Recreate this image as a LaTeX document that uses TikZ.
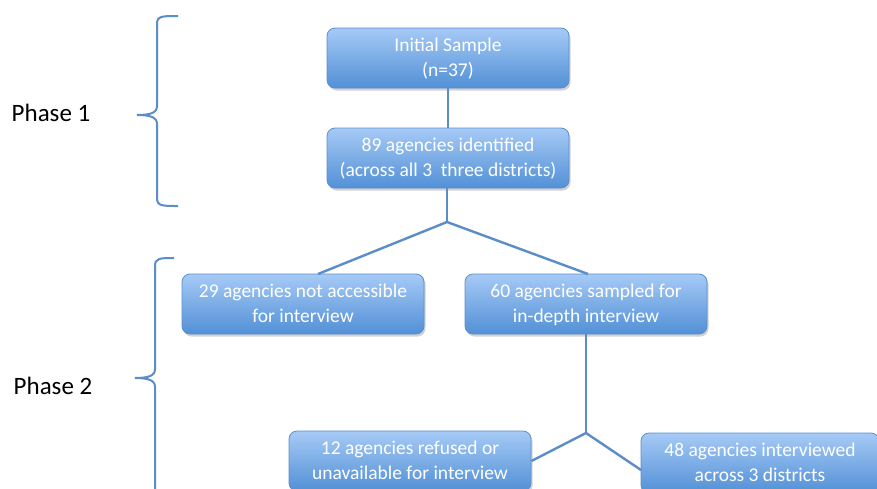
\documentclass[tikz,border=0pt]{standalone}
\usepackage{fontspec}
\setmainfont{Carlito}
\usetikzlibrary{shadows}
\definecolor{boxtop}{HTML}{A6CAF6}
\definecolor{boxbot}{HTML}{5290D6}
\definecolor{boxline}{HTML}{5A8FCB}
\definecolor{linkblue}{HTML}{5B8DC6}

\begin{document}
\begin{tikzpicture}[x=1pt, y=-1pt,
    box/.style={rounded corners=8pt, draw=boxline, line width=0.8pt,
      top color=boxtop, bottom color=boxbot, text=white, align=center,
      minimum width=242pt, minimum height=60pt, text depth=2pt,
      font=\fontsize{19.5}{25}\selectfont,
      drop shadow={opacity=0.35, shadow xshift=1.5pt, shadow yshift=-2.5pt}},
    link/.style={linkblue, line width=2.4pt},
    phase/.style={font=\fontsize{25}{30}\selectfont}]
      \useasboundingbox (0, 0) rectangle (877, 488);
      \clip (0, 0) rectangle (877, 488);
      \fill [white] (0, 0) rectangle (877, 488);
      % braces on the left
      \draw [link, line width=2pt] (178, 16) .. controls (162, 16) and (157, 16) .. (157, 24)
        -- (157, 106) .. controls (157, 113) and (150, 115) .. (137, 115);
      \draw [link, line width=2pt] (137, 115) .. controls (150, 115) and (157, 117) .. (157, 124)
        -- (157, 198) .. controls (157, 206) and (162, 206) .. (178, 206);
      \draw [link, line width=2pt] (174, 258) .. controls (160, 258) and (155, 258) .. (155, 266)
        -- (155, 369) .. controls (155, 376) and (148, 378) .. (135, 378);
      \draw [link, line width=2pt] (135, 378) .. controls (148, 378) and (155, 380) .. (155, 387)
        -- (155, 495);
      \node [phase] (p1) at (51, 113) {Phase 1};
      \node [phase] (p2) at (53, 386) {Phase 2};
      % boxes
      \node [box] (init) at (448, 58) {Initial Sample\\(n=37)};
      \node [box] (ident) at (448, 158) {89 agencies identified\\(across all 3~ three districts)};
      \node [box] (nacc) at (303, 304) {29 agencies not accessible\\for interview};
      \node [box] (samp) at (586, 304) {60 agencies sampled for\\in-depth interview};
      \node [box] (refu) at (410, 461) {12 agencies refused or\\unavailable for interview};
      \node [box, minimum width=238pt] (intv) at (760, 463) {48 agencies interviewed\\across 3 districts};
      % connectors
      \coordinate (j1) at (447, 222);
      \coordinate (j2) at (586, 433);
      \coordinate (nacctop) at (318, 274);
      \coordinate (samptop) at (588, 274);
      \coordinate (intvleft) at (641, 470);
      \draw [link] (init) -- (ident);
      \draw [link] (ident.south -| j1) -- (j1);
      \draw [link] (nacctop) -- (j1) -- (samptop);
      \draw [link] (samp) -- (j2);
      \draw [link] (refu.east) -- (j2) -- (intvleft);
    \end{tikzpicture}
\end{document}
